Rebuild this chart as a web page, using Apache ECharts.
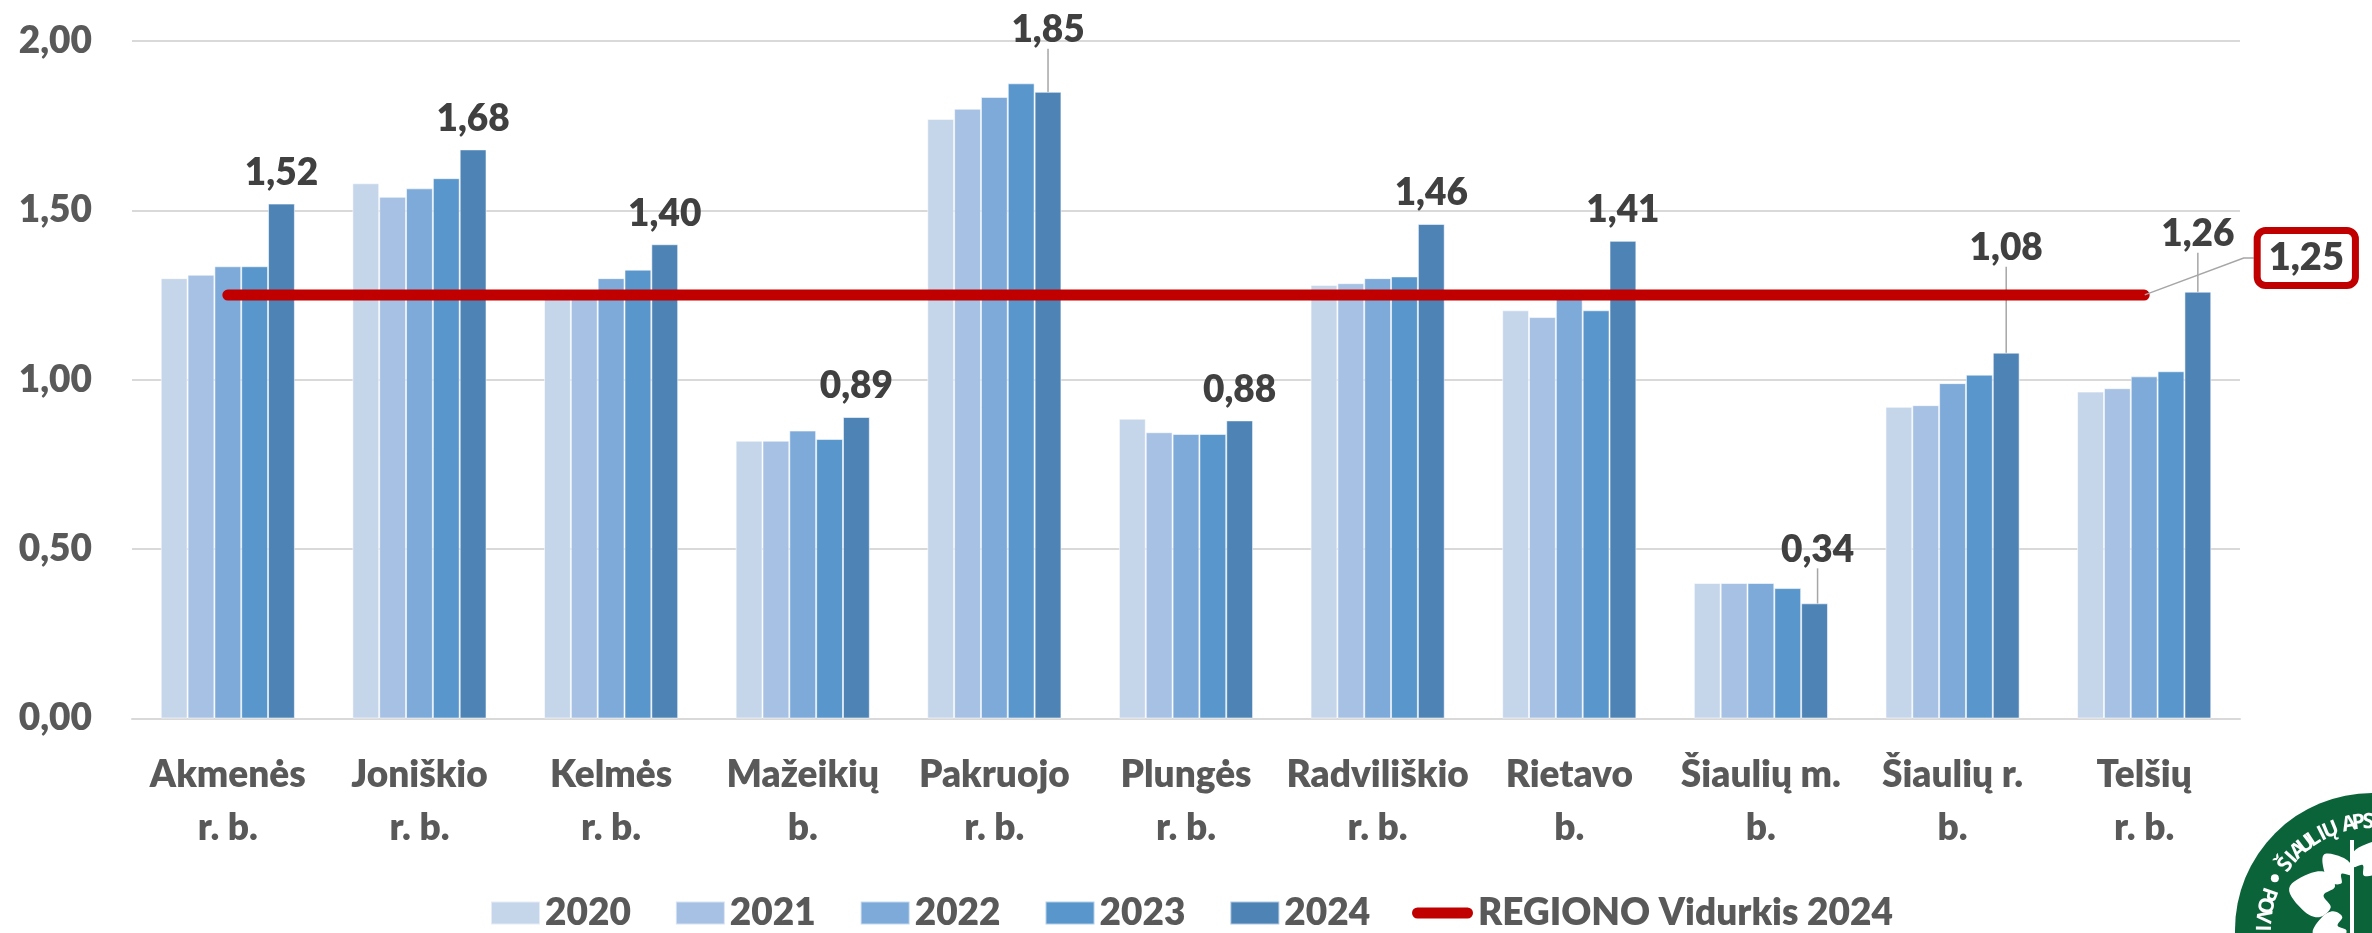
<!DOCTYPE html>
<html>
<head>
<meta charset="utf-8">
<script src="https://cdn.jsdelivr.net/npm/echarts@6/dist/echarts.min.js"></script>
<style>
  html, body { margin: 0; padding: 0; background: #fff; }
  #chart { width: 2372px; height: 933px; }
</style>
</head>
<body>
<div id="chart"></div>
<script>
// ---- data ----
const categories = ['Akmenės\nr. b.', 'Joniškio\nr. b.', 'Kelmės\nr. b.', 'Mažeikių\nb.', 'Pakruojo\nr. b.',
  'Plungės\nr. b.', 'Radviliškio\nr. b.', 'Rietavo\nb.', 'Šiaulių m.\nb.', 'Šiaulių r.\nb.', 'Telšių\nr. b.'];
const years = ['2020', '2021', '2022', '2023', '2024'];
const v2020 = [1.30, 1.58, 1.25, 0.82, 1.77, 0.885, 1.28, 1.205, 0.40, 0.92, 0.965];
const v2021 = [1.31, 1.54, 1.265, 0.82, 1.80, 0.845, 1.285, 1.185, 0.40, 0.925, 0.975];
const v2022 = [1.335, 1.565, 1.30, 0.85, 1.835, 0.84, 1.30, 1.24, 0.40, 0.99, 1.01];
const v2023 = [1.335, 1.595, 1.325, 0.825, 1.875, 0.84, 1.305, 1.205, 0.385, 1.015, 1.025];
const v2024 = [1.52, 1.68, 1.40, 0.89, 1.85, 0.88, 1.46, 1.41, 0.34, 1.08, 1.26];
const avgName = 'REGIONO Vidurkis 2024';
const avg2024 = [1.25, 1.25, 1.25, 1.25, 1.25, 1.25, 1.25, 1.25, 1.25, 1.25, 1.25];
const yTicks = { min: 0, max: 2, interval: 0.5 };

// ---- styles / layout (not data) ----
const FONT = 'Lato';
const WEIGHT = 800;
const barColors = ['#C5D5EA', '#A6C1E3', '#7DAAD9', '#5896CB', '#4E83B5'];
const lineColor = '#C00000';
const fmt = v => Number(v).toFixed(2).replace('.', ',');
// label displacement for 2024 labels that use leader lines (index -> [dx, dy])
const labelShift = { 4: [0, -31], 8: [3, -23], 9: [0, -74], 10: [0, -27] };

const valuesByYear = [v2020, v2021, v2022, v2023, v2024];

const barSeries = years.map((y, i) => {
  const s = {
    name: y,
    type: 'bar',
    barGap: '0%',
    barCategoryGap: '30%',
    itemStyle: { color: barColors[i], borderColor: 'rgba(255,255,255,0.55)', borderWidth: 1 },
    emphasis: { disabled: true },
    z: 2,
    data: valuesByYear[i]
  };
  if (i === years.length - 1) {
    s.data = valuesByYear[i].map((v, k) => labelShift[k]
      ? { value: v, labelLine: { show: true, lineStyle: { color: '#A6A6A6', width: 1.5 } } }
      : v);
    s.label = {
      show: true, position: 'top', distance: 12,
      formatter: p => fmt(p.value),
      fontFamily: FONT, fontWeight: WEIGHT, fontSize: 37, color: '#404040'
    };
    s.labelLine = { show: false, length2: 0 };
    s.labelLayout = p => {
      const sh = labelShift[p.dataIndex];
      return sh ? { dx: sh[0], dy: sh[1] } : {};
    };
  }
  return s;
});

const lastIdx = avg2024.length - 1;
const lineSeries = {
  name: avgName,
  type: 'line',
  z: 5,
  symbol: 'circle',
  symbolSize: 1,
  showSymbol: true,
  showAllSymbol: true,
  itemStyle: { color: lineColor },
  lineStyle: { color: lineColor, width: 11, cap: 'round' },
  emphasis: { disabled: true },
  data: avg2024.map((v, k) => k === lastIdx
    ? { value: v,
        label: {
          show: true, position: 'right', distance: 0,
          formatter: p => fmt(p.value),
          fontFamily: FONT, fontWeight: WEIGHT, fontSize: 38, color: '#404040',
          backgroundColor: '#fff', borderColor: lineColor, borderWidth: 7, borderRadius: 5,
          padding: [6, 8, 4, 8]
        },
        labelLine: { show: true, length2: 10, lineStyle: { color: '#A6A6A6', width: 1.5 } } }
    : v),
  labelLayout: p => p.dataIndex === lastIdx ? { dx: 116, dy: -37 } : {}
};

// ---- logo (decoration) ----
const logoCx = 2372, logoCy = 930, logoR = 137;
const logoEls = [{ type: 'circle', shape: { cx: logoCx, cy: logoCy, r: logoR }, style: { fill: '#0B6339' }, z: 10 }];
const topText = 'ŠIAULIŲ APSKRITIES';
topText.split('').forEach((ch, i) => {
  const th = (143 - i * 5.1) * Math.PI / 180;
  const r = 108;
  logoEls.push({
    type: 'text', z: 11,
    x: logoCx + r * Math.cos(th), y: logoCy - r * Math.sin(th),
    rotation: th - Math.PI / 2,
    style: { text: ch, fill: '#fff', font: 'bold 21px "Open Sans"', align: 'center', verticalAlign: 'middle' }
  });
});
const sideText = 'POVILO';
sideText.split('').forEach((ch, i) => {
  const th = (161 + i * 6) * Math.PI / 180;
  const r = 110;
  logoEls.push({
    type: 'text', z: 11,
    x: logoCx + r * Math.cos(th), y: logoCy - r * Math.sin(th),
    rotation: th + Math.PI / 2,
    style: { text: ch, fill: '#fff', font: 'bold 21px "Open Sans"', align: 'center', verticalAlign: 'middle' }
  });
});
{
  const th = 152 * Math.PI / 180;
  logoEls.push({ type: 'circle', z: 11, shape: { cx: logoCx + 110 * Math.cos(th), cy: logoCy - 110 * Math.sin(th), r: 4 }, style: { fill: '#fff' } });
}
const heartPts = [[0, -8], [-7, -15], [-15, -8], [-13, 4], [0, 18], [13, 4], [15, -8], [7, -15]];
function leaf(x, y, rot, sx, sy) {
  return { type: 'polygon', z: 11, x: x, y: y, rotation: rot, scaleX: sx, scaleY: sy,
    shape: { points: heartPts, smooth: 0.35 }, style: { fill: '#fff' } };
}
logoEls.push({ type: 'rect', z: 11, shape: { x: 2350, y: 840, width: 4, height: 93 }, style: { fill: '#fff' } });
logoEls.push(leaf(2313, 893, -Math.PI / 2 - 0.2, 1.5, 1.35));
logoEls.push(leaf(2336, 868, -2.4, 0.9, 1.0));
logoEls.push(leaf(2368, 858, 2.5, 1.0, 1.1));
logoEls.push(leaf(2330, 928, -Math.PI / 2 + 0.3, 1.0, 1.0));

const chart = echarts.init(document.getElementById('chart'), null, { renderer: 'canvas' });
chart.setOption({
  animation: false,
  backgroundColor: '#fff',
  textStyle: { fontFamily: FONT },
  grid: { left: 132, right: 132, top: 41, bottom: 214.5, containLabel: false },
  xAxis: {
    type: 'category',
    data: categories,
    axisTick: { show: false },
    axisLine: { lineStyle: { color: '#D9D9D9', width: 2 } },
    axisLabel: {
      interval: 0, margin: 30,
      fontFamily: FONT, fontWeight: WEIGHT, fontSize: 37, lineHeight: 53, color: '#595959'
    }
  },
  yAxis: {
    type: 'value',
    min: yTicks.min, max: yTicks.max, interval: yTicks.interval,
    axisLine: { show: false },
    axisTick: { show: false },
    splitLine: { lineStyle: { color: '#D9D9D9', width: 2 } },
    axisLabel: {
      margin: 40, formatter: v => fmt(v),
      fontFamily: FONT, fontWeight: WEIGHT, fontSize: 37, color: '#595959'
    }
  },
  legend: [
    {
      data: years, left: 490, top: 893, padding: 0,
      itemWidth: 49, itemHeight: 23, itemGap: 44, icon: 'rect',
      selectedMode: false,
      textStyle: { fontFamily: FONT, fontWeight: WEIGHT, fontSize: 37, lineHeight: 40, color: '#595959' }
    },
    {
      data: [{ name: avgName, icon: 'path://M5.5,0H55.5A5.5,5.5,0,0,1,55.5,11H5.5A5.5,5.5,0,0,1,5.5,0Z' }],
      left: 1412, top: 893, padding: 0,
      itemWidth: 61, itemHeight: 11,
      selectedMode: false,
      itemStyle: { color: lineColor },
      textStyle: { fontFamily: FONT, fontWeight: WEIGHT, fontSize: 37, lineHeight: 40, color: '#595959' }
    }
  ],
  series: [...barSeries, lineSeries],
  graphic: { elements: logoEls }
});
</script>
</body>
</html>
